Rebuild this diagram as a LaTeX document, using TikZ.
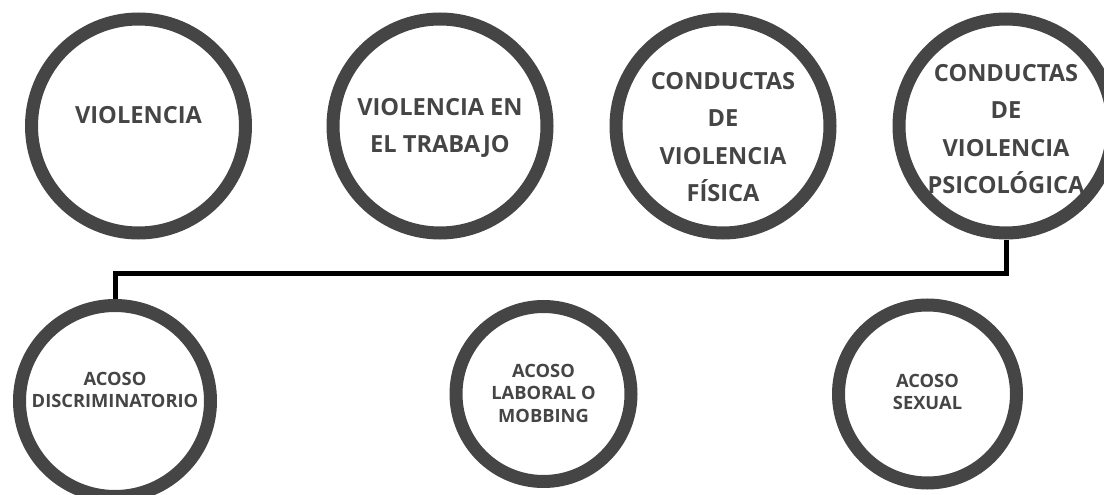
\documentclass[tikz,border=0pt]{standalone}
\usepackage{fontspec}
\setmainfont{Open Sans}
\definecolor{ringgray}{HTML}{454545}
\tikzstyle{ring}=[draw=ringgray, line width=13pt, circle, inner sep=0pt]
\tikzstyle{bigtext}=[text=ringgray, align=center, font=\fontsize{23.6}{37.5}\selectfont\bfseries]
\tikzstyle{smalltext}=[text=ringgray, align=center, font=\fontsize{18.3}{22.5}\selectfont\bfseries]
\tikzstyle{link}=[line width=5pt, black]

\begin{document}
\begin{tikzpicture}[x=1pt, y=-1pt]
  \useasboundingbox (0,0) rectangle (1104,495);
  % top row
  \node[ring, minimum size=214pt] (violencia) at (138.5,126) {};
  \node[ring, minimum size=214pt] (trabajo) at (440,126) {};
  \node[ring, minimum size=214pt] (fisica) at (723,126) {};
  \node[ring, minimum size=214pt] (psico) at (1006,126) {};
  \node[bigtext] (violenciaT) at ([yshift=11pt]violencia.center) {VIOLENCIA};
  \node[bigtext] (trabajoT) at ([yshift=-2pt]trabajo.center) {VIOLENCIA EN\\EL TRABAJO};
  \node[bigtext] (fisicaT) at ([yshift=-11pt]fisica.center) {CONDUCTAS\\DE\\VIOLENCIA\\FÍSICA};
  \node[bigtext] (psicoT) at ([yshift=-3pt]psico.center) {CONDUCTAS\\DE\\VIOLENCIA\\PSICOLÓGICA};
  % bottom row
  \node[ring, minimum size=191pt] (discrim) at (115,401) {};
  \node[ring, minimum size=175pt] (mobbing) at (543.5,394) {};
  \node[ring, minimum size=178pt] (sexual) at (927.5,394) {};
  \node[smalltext] (discrimT) at ([yshift=11pt]discrim.center) {ACOSO\\DISCRIMINATORIO};
  \node[smalltext] (mobbingT) at ([yshift=1pt]mobbing.center) {ACOSO\\LABORAL O\\MOBBING};
  \node[smalltext] (sexualT) at ([yshift=2pt]sexual.center) {ACOSO\\SEXUAL};
  % connector
  \coordinate (bar) at (560,273);
  \draw[link] (psico.south) |- (bar) -| (discrim.north);
\end{tikzpicture}
\end{document}
